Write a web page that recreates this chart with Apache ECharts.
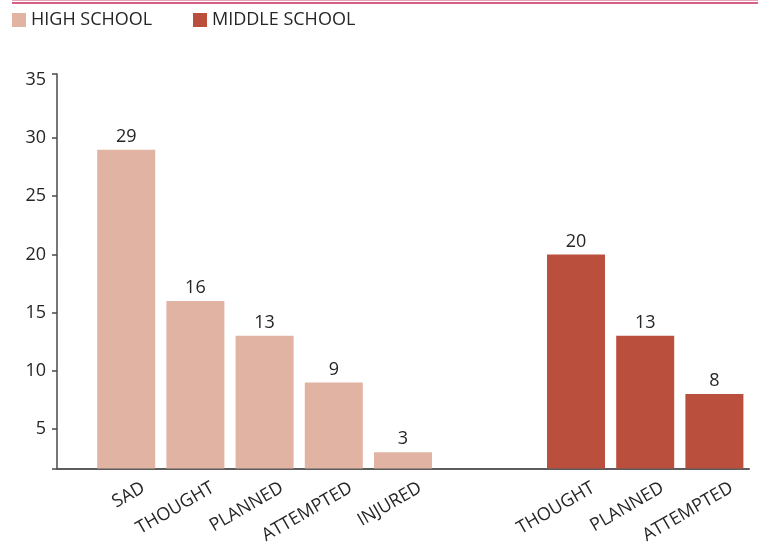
<!DOCTYPE html>
<html>
<head>
<meta charset="utf-8">
<script src="https://cdn.jsdelivr.net/npm/echarts@6/dist/echarts.min.js"></script>
<style>
  html, body { margin: 0; padding: 0; background: #ffffff; }
  #chart { width: 758px; height: 548px; }
</style>
</head>
<body>
<div id="chart"></div>
<script>
// Share of students reporting each item (%)
const hsCategories = ['SAD', 'THOUGHT', 'PLANNED', 'ATTEMPTED', 'INJURED'];
const hsValues = [29, 16, 13, 9, 3];
const msCategories = ['THOUGHT', 'PLANNED', 'ATTEMPTED'];
const msValues = [20, 13, 8];
const yTickLabels = [5, 10, 15, 20, 25, 30, 35];
const seriesNames = ['HIGH SCHOOL', 'MIDDLE SCHOOL'];

// Slot layout on a fine category axis (two slots per bar, gap between groups)
const SLOT_COUNT = 21;
const HS_FIRST = 2, MS_FIRST = 15, STEP = 2;
const Y_MIN = 1.6, Y_MAX = 35.5;

const slots = new Array(SLOT_COUNT).fill('');
const hsData = new Array(SLOT_COUNT).fill('-');
const msData = new Array(SLOT_COUNT).fill('-');
hsCategories.forEach((c, i) => { slots[HS_FIRST + i * STEP] = c; hsData[HS_FIRST + i * STEP] = hsValues[i]; });
msCategories.forEach((c, i) => { slots[MS_FIRST + i * STEP] = c; msData[MS_FIRST + i * STEP] = msValues[i]; });

const FONT = '"Open Sans", "Noto Sans", sans-serif';
const TEXT = '#262626';
const HS_COLOR = '#e1b3a2';
const MS_COLOR = '#bb4f3e';

const chart = echarts.init(document.getElementById('chart'), null, { renderer: 'canvas' });

const legendBase = {
  top: 11,
  padding: 0,
  itemWidth: 14,
  itemHeight: 14,
  icon: 'rect',
  itemGap: 0,
  selectedMode: false,
  textStyle: { fontFamily: FONT, fontSize: 18, color: TEXT }
};

const labelStyle = {
  show: true,
  position: 'top',
  distance: 4,
  fontFamily: FONT,
  fontSize: 18,
  color: TEXT,
  formatter: p => String(p.value)
};

chart.setOption({
  animation: false,
  backgroundColor: '#ffffff',
  graphic: [
    { type: 'line', shape: { x1: 12, y1: 0.5, x2: 758, y2: 0.5 }, style: { stroke: '#e7a3b7', lineWidth: 1 } },
    { type: 'line', shape: { x1: 12, y1: 3, x2: 758, y2: 3 }, style: { stroke: '#c92c5c', lineWidth: 1.5 } }
  ],
  legend: [
    Object.assign({ left: 12, data: [seriesNames[0]] }, legendBase),
    Object.assign({ left: 193, data: [seriesNames[1]] }, legendBase)
  ],
  grid: { left: 57, right: 9, top: 74, bottom: 79.5, containLabel: false },
  xAxis: {
    type: 'category',
    data: slots,
    boundaryGap: false,
    axisLine: { lineStyle: { color: '#5c5c5c', width: 2 } },
    axisTick: { show: false },
    axisLabel: {
      interval: 0,
      rotate: 30,
      margin: 28,
      padding: [0, -20, 0, 0],
      fontFamily: FONT,
      fontSize: 18,
      color: TEXT
    },
    splitLine: { show: false }
  },
  yAxis: {
    type: 'value',
    min: Y_MIN,
    max: Y_MAX,
    axisLine: { show: true, lineStyle: { color: '#4a4a4a', width: 1.5 } },
    axisTick: {
      show: true,
      length: 5,
      customValues: [Y_MIN].concat(yTickLabels.slice(0, -1), [Y_MAX]),
      lineStyle: { color: '#4a4a4a', width: 1.5 }
    },
    axisLabel: {
      customValues: yTickLabels,
      margin: 11,
      fontFamily: FONT,
      fontSize: 18,
      color: TEXT
    },
    splitLine: { show: false }
  },
  series: [
    {
      name: seriesNames[0],
      type: 'bar',
      data: hsData,
      barWidth: 58,
      barGap: '-100%',
      itemStyle: { color: HS_COLOR },
      label: labelStyle
    },
    {
      name: seriesNames[1],
      type: 'bar',
      data: msData,
      barWidth: 58,
      barGap: '-100%',
      itemStyle: { color: MS_COLOR },
      label: labelStyle
    }
  ]
});
</script>
</body>
</html>
